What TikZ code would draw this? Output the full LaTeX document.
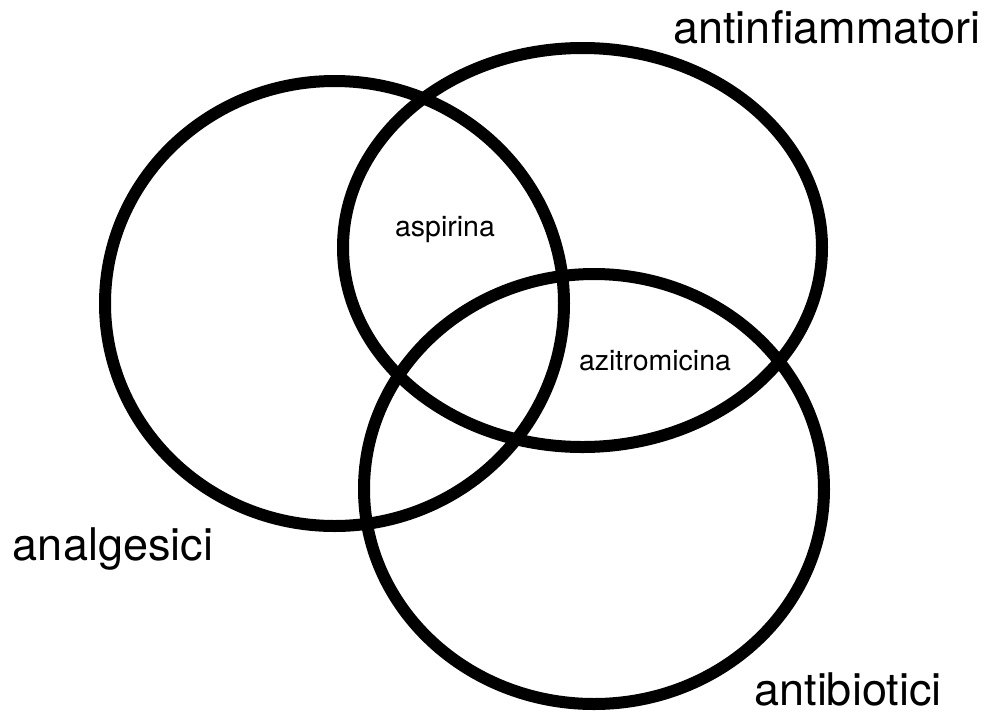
\documentclass[tikz,border=0pt]{standalone}
\usepackage{fontspec}
\setmainfont{TeX Gyre Heros}
\usetikzlibrary{shapes.geometric}
\begin{document}
\begin{tikzpicture}[x=1pt,y=-1pt,
  setshape/.style={draw=black, ellipse, line width=12pt, inner sep=0pt},
  biglabel/.style={anchor=base, inner sep=0pt, font=\fontsize{45}{50}\selectfont},
  smalllabel/.style={anchor=base, inner sep=0pt, font=\fontsize{28.5}{34}\selectfont}]
\useasboundingbox[fill=white] (0,0) rectangle (988,716);
\node[setshape, minimum width=459pt, minimum height=445pt] (analg) at (334.5,303.5) {};
\node[setshape, minimum width=479pt, minimum height=399pt] (antinf) at (582.5,247.5) {};
\node[setshape, minimum width=460pt, minimum height=430pt] (antib) at (594,489) {};
\node[biglabel] (lantinf) at (827,43) {antinfiammatori};
\node[biglabel] (lanalg) at (113,560) {analgesici};
\node[biglabel] (lantib) at (848,705) {antibiotici};
\node[smalllabel] (lasp) at (445,236) {aspirina};
\node[smalllabel] (lazi) at (655,370) {azitromicina};
\end{tikzpicture}
\end{document}
